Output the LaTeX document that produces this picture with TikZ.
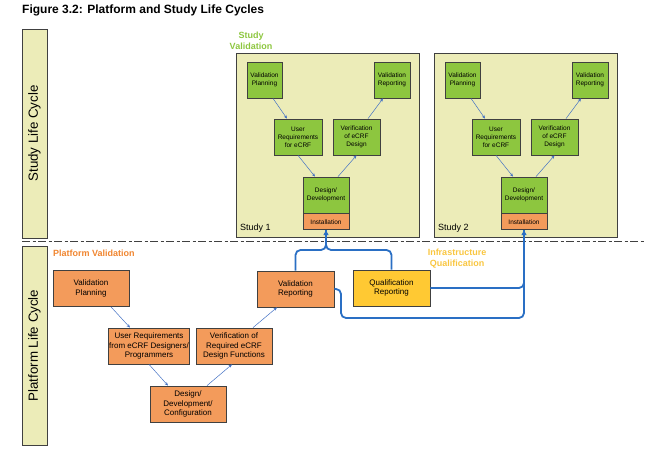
\documentclass[tikz,border=0pt]{standalone}
\usepackage{fontspec}
\setmainfont{Liberation Sans}
\usetikzlibrary{arrows.meta}

\definecolor{edgegray}{HTML}{404040}
\definecolor{boxgreen}{HTML}{8DC63F}
\definecolor{boxorange}{HTML}{F39B5B}
\definecolor{boxyellow}{HTML}{FFC933}
\definecolor{paleback}{HTML}{ECECB8}
\definecolor{linkblue}{HTML}{2A6FC4}
\definecolor{flowblue}{HTML}{4472C4}
\definecolor{labelgreen}{HTML}{8DC63F}
\definecolor{labelorange}{HTML}{F0852F}
\definecolor{labelyellow}{HTML}{F9C640}

\begin{document}
\begin{tikzpicture}[x=1pt,y=-1pt,
    box/.style={draw=edgegray, line width=0.8pt, inner sep=1pt, align=center},
    greenbox/.style={box, fill=boxgreen, font=\fontsize{6.5}{8.2}\selectfont},
    instbox/.style={box, fill=boxorange, font=\fontsize{6.5}{8.2}\selectfont,
      minimum width=46, minimum height=16},
    orangebox/.style={box, fill=boxorange, font=\fontsize{8}{9.6}\selectfont,
      minimum width=76, minimum height=36},
    sidebar/.style={draw=edgegray, line width=0.8pt, fill=paleback, rotate=90,
      minimum height=25, font=\fontsize{13.3}{15}\selectfont},
    groupbox/.style={draw=edgegray, line width=0.8pt, fill=paleback,
      minimum width=183, minimum height=184},
    phase/.style={font=\fontsize{9}{11}\selectfont\bfseries, align=center},
    flow/.style={draw=flowblue, line width=0.5pt, -{Stealth[length=3.5pt,width=3pt]}},
    conn/.style={draw=linkblue, line width=1.8pt, rounded corners=5pt},
    tip/.style={-{Triangle[length=5pt,width=5pt]}}
  ]
  \useasboundingbox (0,0) rectangle (666,462);

  % title and side bars
  \node[anchor=base west, font=\fontsize{12}{14}\selectfont\bfseries, inner sep=0]
    (title) at (22,14) {Figure 3.2: Platform and Study Life Cycles};
  \node[sidebar, minimum width=209] (studybar) at (34.5,133.5) {Study Life Cycle};
  \node[sidebar, minimum width=199] (platbar) at (34.5,345.5) {Platform Life Cycle};

  \draw[edgegray, line width=1pt, dash pattern=on 8pt off 2.5pt on 3pt off 2.5pt]
    (22,242) -- (645,242);

  % study boxes
  \node[phase, text=labelgreen] (svlabel) at (251,41) {Study\\Validation};
  \foreach \s/\dx in {1/0, 2/198} {
    \node[groupbox] (study\s) at (327.5+\dx,145) {};
    \node[anchor=base west, font=\fontsize{9}{11}\selectfont, inner sep=0]
      (slabel\s) at (240+\dx,231) {Study \s};

    \node[greenbox, minimum width=35, minimum height=36] (vp\s) at (264.5+\dx,80)
      {Validation\\Planning};
    \node[greenbox, minimum width=36, minimum height=36] (vr\s) at (392+\dx,80)
      {Validation\\Reporting};
    \node[greenbox, minimum width=48, minimum height=36] (ur\s) at (298+\dx,137)
      {User\\Requirements\\for eCRF};
    \node[greenbox, minimum width=47, minimum height=36] (vf\s) at (356.5+\dx,137)
      {Verification\\of eCRF\\Design};
    \node[greenbox, minimum width=46, minimum height=36] (dd\s) at (326+\dx,195)
      {Design/\\Development};
    \node[instbox, anchor=north] (inst\s) at (dd\s.south) {Installation};

    \draw[flow] ([xshift=8.5pt]vp\s.south) -- ([xshift=-11pt]ur\s.north);
    \draw[flow] (ur\s.south) -- ([xshift=-11pt]dd\s.north);
    \draw[flow] ([xshift=12pt]dd\s.north) -- (vf\s.south);
    \draw[flow] ([xshift=11.5pt]vf\s.north) -- ([xshift=-9pt]vr\s.south);
  }

  % platform validation
  \node[phase, text=labelorange, anchor=west, inner sep=0] (pvlabel) at (53,253)
    {Platform Validation};
  \node[orangebox] (pvp) at (91,288.5) {Validation\\Planning};
  \node[orangebox] (pur) at (149,346) {User Requirements\\from eCRF Designers/\\Programmers};
  \node[orangebox] (pvf) at (234,346) {Verification of\\Required eCRF\\Design Functions};
  \node[orangebox] (pdd) at (188,404) {Design/\\Development/\\Configuration};
  \node[orangebox, minimum width=77] (pvr) at (295.5,289) {Validation\\Reporting};

  \draw[flow] ([xshift=20pt]pvp.south) -- ([xshift=-19pt]pur.north);
  \draw[flow] (pur.south) -- ([xshift=-20pt]pdd.north);
  \draw[flow] ([xshift=19pt]pdd.north) -- ([xshift=-2pt]pvf.south);
  \draw[flow] ([xshift=19pt]pvf.north) -- ([xshift=-18.5pt]pvr.south);

  % infrastructure qualification
  \node[phase, text=labelyellow] (iqlabel) at (457,258.5) {Infrastructure\\Qualification};
  \node[orangebox, fill=boxyellow, minimum width=77] (qr) at (391.5,288)
    {Qualification\\Reporting};

  % links into the studies
  \coordinate (join1) at (326,250);
  \coordinate (turn2) at (341,318);
  \draw[conn] (qr.north) |- (join1) -- (inst1.south);
  \draw[conn, tip] (pvr.north) |- (join1) -- (inst1.south);
  \draw[conn] (pvr.east) -| (turn2) -| (inst2.south);
  \draw[conn, tip] (qr.east) -| (inst2.south);
\end{tikzpicture}
\end{document}
